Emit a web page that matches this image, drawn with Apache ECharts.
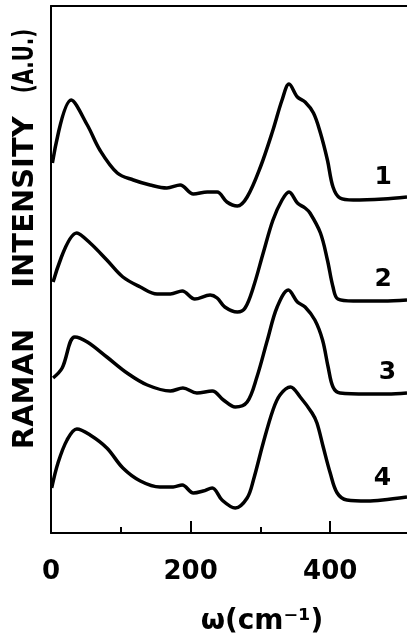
<!DOCTYPE html>
<html>
<head>
<meta charset="utf-8">
<script src="https://cdn.jsdelivr.net/npm/echarts@6/dist/echarts.min.js"></script>
<style>html,body{margin:0;padding:0;background:#fff;}#c{width:407px;height:643px;}</style>
</head>
<body>
<div id="c"></div>
<script>
// Raman shift (cm^-1) and intensity (A.U.)
var x1 = [2,29,52,70,95,118,142,166,185,204,224,238,252,267,281,300,318,331,341,353,364,376,386,396,404,414,433,476,510];
var y1 = [370,433,408,383,360,353,348,345,348,339,341,341,331,327,336,366,403,433,449,436,431,420,400,373,346,335,333,334,336];
var x2 = [3,37,56,80,103,128,152,171,188,206,228,238,249,267,278,290,304,318,331,341,353,364,371,386,396,404,411,433,476,510];
var y2 = [251,300,290,273,256,246,239,239,242,234,238,235,226,221,225,246,280,313,333,341,330,325,320,300,273,246,234,232,232,233];
var x3 = [3,16,34,52,80,109,138,171,189,209,231,247,264,281,295,310,324,340,353,364,378,389,397,404,414,453,482,510];
var y3 = [155,165,196,191,176,160,148,142,145,140,142,133,126,131,156,193,226,243,231,226,213,193,166,146,140,139,139,140];
var x4 = [1,10,23,37,56,80,103,128,156,175,188,204,218,231,245,264,281,290,304,318,328,343,357,374,381,390,400,410,424,453,475,510];
var y4 = [45,70,93,104,98,85,65,52,46,46,48,40,42,45,33,25,35,53,90,123,138,146,136,120,110,86,60,40,33,32,33,36];
var curveNames = ['1','2','3','4'];
var labelAtX = [476,476,482,475];
var majorTicks = [200,400];
var minorTicks = [100,300];
var tickLabels = [0,200,400];

var xs = [x1,x2,x3,x4], ys = [y1,y2,y3,y4];
var series = xs.map(function(xv, k){
  var data = xv.map(function(x, i){
    var item = {value:[x, ys[k][i]]};
    if (x === labelAtX[k]) {
      item.label = {show:true, formatter:curveNames[k], position:'top', distance:9,
        color:'#000', fontSize:25, fontWeight:'bold', fontFamily:'DejaVu Sans'};
    }
    return item;
  });
  return {type:'line', xAxisIndex:0, data:data, smooth:0.35, symbol:'circle', symbolSize:0,
    showSymbol:true, lineStyle:{color:'#000', width:3.5}, itemStyle:{color:'#000'},
    label:{show:false}, animation:false};
});

var chart = echarts.init(document.getElementById('c'));
chart.setOption({
  animation:false,
  backgroundColor:'#fff',
  grid:{left:51, right:0, top:6, bottom:110},
  xAxis:[
    {type:'value', position:'bottom', min:0, max:510,
     axisLine:{lineStyle:{color:'#000', width:2}},
     axisTick:{show:true, inside:true, length:12, customValues:majorTicks, lineStyle:{color:'#000', width:2}},
     axisLabel:{customValues:tickLabels, margin:26, color:'#000', fontSize:26, fontWeight:'bold', fontFamily:'DejaVu Sans'},
     splitLine:{show:false}},
    {type:'value', position:'bottom', min:0, max:510,
     axisLine:{show:false},
     axisTick:{show:true, inside:true, length:6, customValues:minorTicks, lineStyle:{color:'#000', width:2}},
     axisLabel:{show:false}, splitLine:{show:false}},
    {type:'value', position:'top', min:0, max:510,
     axisLine:{lineStyle:{color:'#000', width:2}},
     axisTick:{show:false}, axisLabel:{show:false}, splitLine:{show:false}}
  ],
  yAxis:{type:'value', min:0, max:527,
    axisLine:{show:true, lineStyle:{color:'#000', width:2}},
    axisTick:{show:false}, axisLabel:{show:false}, splitLine:{show:false}},
  graphic:[
    {type:'text', x:25, y:389, rotation:Math.PI/2, style:{text:'RAMAN', fill:'#000', font:'bold 29px "DejaVu Sans"', textAlign:'center', textVerticalAlign:'middle'}},
    {type:'text', x:25, y:202, rotation:Math.PI/2, style:{text:'INTENSITY', fill:'#000', font:'bold 29px "DejaVu Sans"', textAlign:'center', textVerticalAlign:'middle'}},
    {type:'text', x:25, y:61, rotation:Math.PI/2, scaleX:0.68, style:{text:'(A.U.)', fill:'#000', font:'bold 29px "DejaVu Sans"', textAlign:'center', textVerticalAlign:'middle'}},
    {type:'text', x:262, y:622, style:{text:'ω(cm⁻¹)', fill:'#000', font:'bold 28px "DejaVu Sans"', textAlign:'center', textVerticalAlign:'middle'}}
  ],
  series:series
});
</script>
</body>
</html>
